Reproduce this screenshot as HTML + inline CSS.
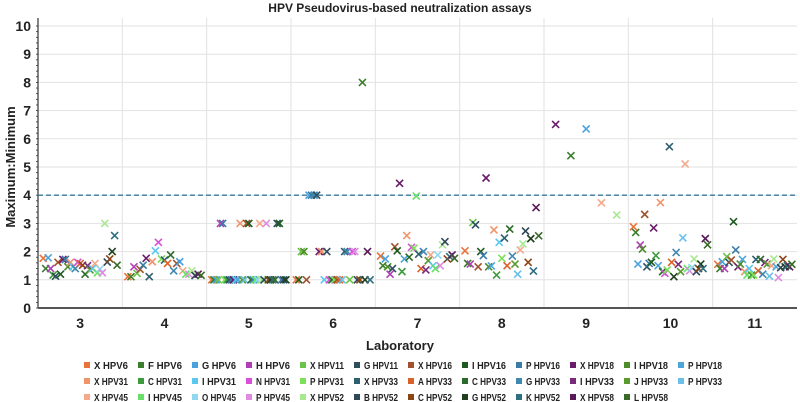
<!DOCTYPE html>
<html><head><meta charset="utf-8"><style>
body{margin:0;background:#fff;}
svg{display:block;font-family:"Liberation Sans",sans-serif;}
</style></head><body>
<svg id="chart" width="800" height="402" viewBox="0 0 800 402"></svg>
<script>
const labs=[3,4,5,6,7,8,9,10,11];
const yTicks=[0,1,2,3,4,5,6,7,8,9,10];
const threshold=4;
const seriesNames=["X HPV6","F HPV6","G HPV6","H HPV6","X HPV11","G HPV11","X HPV16","I HPV16","P HPV16","X HPV18","I HPV18","P HPV18",
"X HPV31","C HPV31","I HPV31","N HPV31","P HPV31","X HPV33","A HPV33","C HPV33","G HPV33","I HPV33","J HPV33","P HPV33",
"X HPV45","I HPV45","O HPV45","P HPV45","X HPV52","B HPV52","C HPV52","G HPV52","K HPV52","X HPV58","L HPV58"];
const seriesColors=["#e8743b","#3a7d2c","#4aa3df","#b03fb5","#6cc24a","#2e4e5e","#a0522d","#1e5a1e","#3a7ca5","#6a1b6a","#4e8c2a","#4ca6d9",
"#f0956a","#3d9b3d","#5bc8f0","#d94fd9","#7ddf5a","#2e5f6e","#d9622b","#2a6b2a","#3f88b0","#7a2a7a","#5a9a30","#6ac0e8",
"#f4a98a","#66e066","#8fd8f0","#e08ae0","#a8e890","#2f4858","#8b4513","#1f3f1f","#2d6e80","#5a1a5a","#3a6a2a"];
// per-lab values and series index, in left-to-right order
const lab3Vals=[1.76,1.4,1.78,1.4,1.17,1.13,1.62,1.2,1.72,1.72,1.46,1.62,1.46,1.4,1.62,1.58,1.52,1.2,1.5,1.35,1.4,1.58,1.25,1.38,1.25,3.0,1.63,1.74,2.0,2.57,1.52];
const lab3Ser=[0,1,2,3,13,5,6,7,9,8,10,12,14,20,15,18,30,19,21,22,23,24,25,26,27,28,29,30,31,32,34];
const lab4Vals=[1.11,1.11,1.46,1.23,1.37,1.52,1.76,1.11,1.64,2.03,2.33,1.74,1.7,1.58,1.88,1.32,1.58,1.64,1.32,1.2,1.2,1.32,1.15,1.2,1.16];
const lab4Ser=[0,1,3,4,6,8,9,17,12,14,15,16,17,18,19,20,6,2,24,25,27,28,29,33,34];
const lab5Vals=[1,1,1,1,3,3,1,1,1,1,1,1,1,3,1,1,3,3,1,1,1,1,3,1,1,3,1,1,1,1,3,3,1,1,1];
const lab5Ser=[0,1,2,4,3,8,16,13,5,8,9,14,2,12,22,23,6,7,19,20,25,26,24,28,29,27,30,31,32,34,5,7,8,29,31];
const lab6Vals=[1,1,2,2,1,4,4,4,4,2,2,1,2,1,1,1,1,1,1,2,2,1,2,2,1,1,8,1,2,1];
const lab6Ser=[0,7,4,10,6,2,8,20,5,9,12,14,5,15,19,16,6,18,23,17,20,4,15,27,29,30,1,31,33,32];
const lab7Vals=[1.84,1.5,1.74,1.46,1.2,1.4,2.17,2.03,4.42,1.29,1.74,2.57,1.8,2.15,2.12,3.97,1.91,1.4,2.0,1.35,1.68,1.88,1.5,1.4,1.88,1.5,2.24,2.35,1.74,1.82,1.88,1.76];
const lab7Ser=[0,1,2,10,3,5,6,7,9,13,11,12,19,15,16,25,17,18,20,21,22,24,14,25,26,27,28,29,30,32,33,34];
const lab8Vals=[2.03,1.58,1.56,3.03,2.95,1.46,2.0,1.86,4.61,1.46,1.49,2.77,1.17,2.33,1.76,2.48,1.5,2.8,1.84,1.56,1.2,2.06,2.27,2.73,1.62,2.46,1.31,3.56,2.56];
const lab8Ser=[0,1,3,4,5,6,7,8,9,10,11,12,13,14,16,17,18,19,20,22,23,24,28,29,30,31,32,33,34];
const lab9Vals=[6.51,5.4,6.35,3.73,3.3];
const lab9Ser=[9,1,2,24,28];
const lab10Vals=[2.88,2.68,1.56,2.23,2.09,3.32,1.46,1.58,1.62,2.84,1.86,1.5,3.74,1.29,1.23,1.35,5.72,1.62,1.11,1.97,1.55,1.29,2.49,5.11,1.4,1.32,1.43,1.74,1.29,1.4,1.56,1.4,2.46,2.24];
const lab10Ser=[0,1,2,3,10,6,5,8,7,9,13,11,12,19,15,16,17,18,31,20,21,22,23,24,25,27,26,28,29,30,31,32,33,34];
const lab11Vals=[1.55,1.4,1.64,1.4,1.82,1.62,1.7,3.06,2.06,1.46,1.56,1.72,1.29,1.17,1.4,1.17,1.17,1.72,1.32,1.72,1.2,1.61,1.56,1.13,1.5,1.74,1.46,1.08,1.43,1.72,1.46,1.5,1.46,1.55];
const lab11Ser=[0,1,2,3,4,5,6,7,8,9,10,11,12,25,14,13,16,17,18,19,20,21,22,23,24,28,11,27,29,30,31,32,33,34];
const labVals=[lab3Vals,lab4Vals,lab5Vals,lab6Vals,lab7Vals,lab8Vals,lab9Vals,lab10Vals,lab11Vals];
const labSer=[lab3Ser,lab4Ser,lab5Ser,lab6Ser,lab7Ser,lab8Ser,lab9Ser,lab10Ser,lab11Ser];

const NS="http://www.w3.org/2000/svg";
const svg=document.getElementById('chart');
const X0=38,X1=797,Y0=308,Y1=26,YMAX=10;
const bandW=(X1-X0)/labs.length;
function yS(v){return Y0-(v/YMAX)*(Y0-Y1);}
function bandX(i){return X0+i*bandW;}
function mk(tag,attrs,parent){const e=document.createElementNS(NS,tag);for(const k in attrs)e.setAttribute(k,attrs[k]);(parent||svg).appendChild(e);return e;}

// title
let t=mk('text',{x:400,y:12,'text-anchor':'middle','font-size':12,'font-weight':'bold',fill:'#222'});
t.textContent='HPV Pseudovirus-based neutralization assays';



// grid
yTicks.forEach(v=>{
  const g=mk('line',{x1:X0,x2:X1,y1:yS(v),y2:yS(v),stroke:'#e2e2e2','stroke-width':1});
  
  
  const l=mk('text',{x:31,y:yS(v)+5,'text-anchor':'end','font-size':14,'font-weight':'bold',fill:'#222'});
  l.textContent=v;
  
  
});
for(let i=1;i<labs.length;i++){
  const g=mk('line',{x1:bandX(i),x2:bandX(i),y1:Y1-8,y2:Y0,stroke:'#e2e2e2','stroke-width':1});
  
  
}
// minor ticks on y axis
for(let v=0;v<=YMAX;v+=0.2){
  const m=mk('line',{x1:X0-2,x2:X0,y1:yS(v),y2:yS(v),stroke:'#333','stroke-width':0.8});
  
  
}
let ax=mk('line',{x1:X0,x2:X0,y1:Y1-8,y2:Y0,stroke:'#333','stroke-width':1.2});


ax=mk('line',{x1:X0,x2:X1,y1:Y0,y2:Y0,stroke:'#555','stroke-width':2});



// threshold
const th=mk('line',{x1:X0,x2:X1,y1:yS(threshold),y2:yS(threshold),stroke:'#3d7a9a','stroke-width':1.3,'stroke-dasharray':'5,3'});



// labels
labs.forEach((lab,i)=>{
  const l=mk('text',{x:bandX(i)+bandW/2,y:328,'text-anchor':'middle','font-size':14,'font-weight':'bold',fill:'#222'});
  l.textContent=lab;
  
  
});
t=mk('text',{x:400,y:350,'text-anchor':'middle','font-size':13,'font-weight':'bold',fill:'#222'});
t.textContent='Laboratory';


t=mk('text',{x:0,y:0,'text-anchor':'middle','font-size':13,'font-weight':'bold',fill:'#222',transform:'translate(15,167) rotate(-90)'});
t.textContent='Maximum:Minimum';



// points
labVals.forEach((vals,i)=>{
  const n=vals.length;
  vals.forEach((v,j)=>{
    const cx=bandX(i)+4+(j+0.5)/n*(bandW-8);
    const cy=yS(v);
    const c=seriesColors[labSer[i][j]];
    const p=mk('path',{d:`M${cx-3.5},${cy-3.5}L${cx+3.5},${cy+3.5}M${cx-3.5},${cy+3.5}L${cx+3.5},${cy-3.5}`,stroke:c,'stroke-width':1.6,fill:'none'});
    
    
  });
});

// legend
seriesNames.forEach((name,k)=>{
  const col=k%12,row=Math.floor(k/12);
  const x=84+col*54,y=366+row*16;
  const g=mk('g',{});
  
  
  mk('rect',{x:x,y:y-4,width:6,height:6,fill:seriesColors[k]},g);
  const tx=mk('text',{x:x+10,y:y+3,'font-size':10,'font-weight':'bold',fill:'#222',textLength:name.length>7?40:34,lengthAdjust:'spacingAndGlyphs'},g);
  tx.textContent=name;
});
</script>
</body></html>
